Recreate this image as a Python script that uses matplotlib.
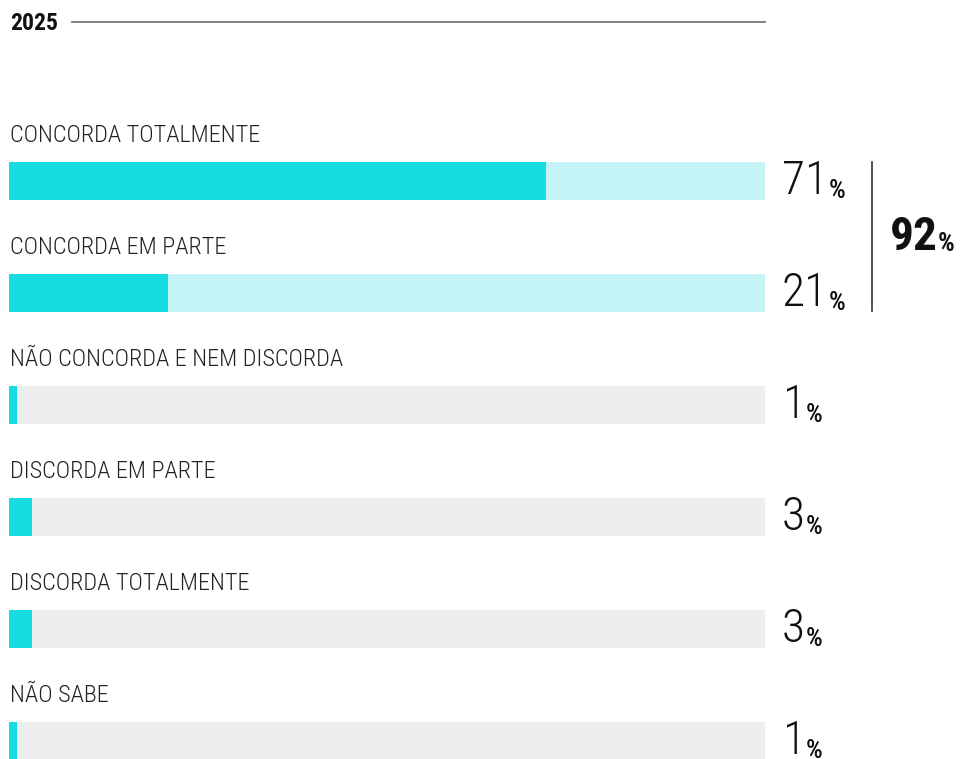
import matplotlib
matplotlib.use("Agg")
from matplotlib import pyplot as plt
from matplotlib import font_manager

# pick a narrow face if one is installed
names = set(f.name for f in font_manager.fontManager.ttflist)
narrow = [n for n in ['Roboto Condensed', 'Liberation Sans Narrow', 'DejaVu Sans Condensed'] if n in names]
plt.rcParams['font.family'] = narrow + ['DejaVu Sans']

year = '2025'
categories = ['CONCORDA TOTALMENTE', 'CONCORDA EM PARTE', 'NÃO CONCORDA E NEM DISCORDA',
              'DISCORDA EM PARTE', 'DISCORDA TOTALMENTE', 'NÃO SABE']
values = [71, 21, 1, 3, 3, 1]
total_agree = 92

fill = '#17dde3'
light = ['#c4f4f5', '#c4f4f5', '#eeeeee', '#eeeeee', '#eeeeee', '#eeeeee']

fig = plt.figure(figsize=(9.63, 7.59), dpi=100)
ax = fig.add_axes([0, 0, 1, 1])
ax.set_xlim(-9 / 7.56, (963 - 9) / 7.56)
ax.set_ylim((759 - 181) / 112, -181 / 112)
ax.axis('off')

rows = range(len(values))
ax.barh(rows, [100] * len(values), height=0.34, color=light, left=0)
ax.barh(rows, values, height=0.34, color=fill, left=0)

for i, (cat, v) in enumerate(zip(categories, values)):
    ax.text(0.1, i - 0.41, cat, fontsize=17.5, fontweight='light', color='#222222',
            va='center', ha='left')
    # numbers span the bar height, sitting on its baseline
    t = ax.text(102.2, i + 0.12, str(v), fontsize=34, fontweight='light', color='#111111',
                va='baseline', ha='left')
    ax.annotate('%', xycoords=t, xy=(1, 0), xytext=(1, 0), textcoords='offset points',
                fontsize=19, fontweight='medium', color='#111111', va='bottom', ha='left')

# bracket joining the two "agree" rows
ax.plot([114.2, 114.2], [-0.17, 1.16], color='#333333', lw=1.2)
t = ax.text(116.5, 0.5, str(total_agree), fontsize=34, fontweight='bold', color='#111111',
            va='center', ha='left')
ax.annotate('%', xycoords=t, xy=(1, 0), xytext=(0, 2.5), textcoords='offset points',
            fontsize=19, color='#111111', va='bottom', ha='left', fontweight='bold')

# year header with rule
fig.text(10 / 963, 1 - 23 / 759, year, fontsize=17, fontweight='bold', color='#111111',
         va='center', ha='left')
fig.add_artist(plt.Line2D([72 / 963, 765 / 963], [1 - 22 / 759] * 2, color='#777777', lw=1.3))

fig.savefig('out.png', dpi=100)
